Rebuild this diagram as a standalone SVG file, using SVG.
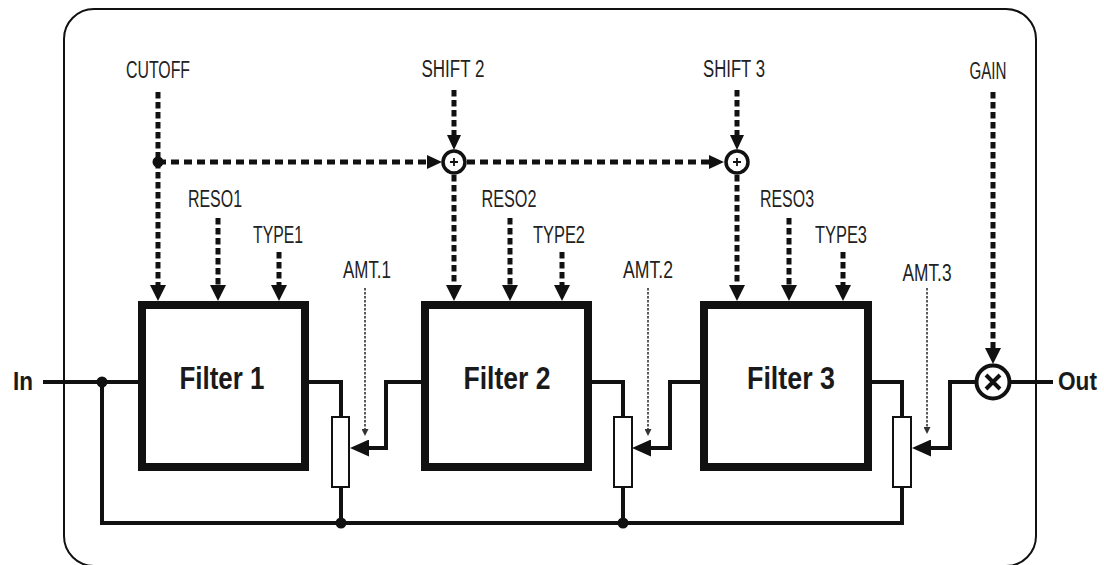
<svg xmlns="http://www.w3.org/2000/svg" width="1104" height="565" viewBox="0 0 1104 565">
  <defs>
    <marker id="ahBig" markerUnits="userSpaceOnUse" markerWidth="16" markerHeight="16" refX="0" refY="8" orient="auto" viewBox="0 0 16 16">
      <path d="M0,0 L16,8 L0,16 z" fill="#111"/>
    </marker>
    <marker id="ahSum" markerUnits="userSpaceOnUse" markerWidth="15" markerHeight="14" refX="0" refY="7" orient="auto" viewBox="0 0 15 14">
      <path d="M0,0 L15,7 L0,14 z" fill="#111"/>
    </marker>
    <marker id="ahWiper" markerUnits="userSpaceOnUse" markerWidth="19" markerHeight="17" refX="0" refY="8.5" orient="auto" viewBox="0 0 19 17">
      <path d="M0,0 L19,8.5 L0,17 z" fill="#111"/>
    </marker>
    <marker id="ahThin" markerUnits="userSpaceOnUse" markerWidth="7" markerHeight="7" refX="0" refY="3.5" orient="auto" viewBox="0 0 7 7">
      <path d="M0,0 L7,3.5 L0,7 z" fill="#333"/>
    </marker>
  </defs>
  <style>
    .frame { fill: #fff; stroke: #111; stroke-width: 2; }
    .lbl { font-family: "Liberation Sans", Arial, sans-serif; font-size: 23px; fill: #222; text-anchor: middle; }
    .flt { font-family: "Liberation Sans", Arial, sans-serif; font-size: 31px; font-weight: bold; fill: #1a1a1a; text-anchor: middle; }
    .io { font-family: "Liberation Sans", Arial, sans-serif; font-size: 26px; font-weight: bold; fill: #1a1a1a; }
    .box { fill: #fff; stroke: #111; stroke-width: 8; }
    .pot { fill: #fff; stroke: #111; stroke-width: 2; }
    .wire { fill: none; stroke: #111; stroke-width: 4; }
    .ctlV { fill: none; stroke: #111; stroke-width: 5; stroke-dasharray: 6.5 3.5; }
    .ctlH { fill: none; stroke: #111; stroke-width: 5; stroke-dasharray: 8 5; }
    .amt { fill: none; stroke: #333; stroke-width: 1.6; stroke-dasharray: 2.5 1.5; }
    .sum { fill: #fff; stroke: #111; stroke-width: 3.5; }
    .mul { fill: #fff; stroke: #111; stroke-width: 4; }
    .sign { stroke: #111; stroke-width: 1.8; }
    .dot { fill: #111; }
  </style>

  <rect id="frame" class="frame" x="64" y="9" width="972" height="557" rx="30" ry="30"/>

  <g id="connectors">
    <!-- audio path -->
    <path class="wire" d="M43,382 H142"/>
    <path class="wire" d="M102,382 V523 H902 V487"/>
    <path class="wire" d="M305,382 H341 V417"/>
    <path class="wire" d="M341,487 V523"/>
    <path class="wire" d="M421,382 H386 V448 H369" marker-end="url(#ahWiper)"/>
    <path class="wire" d="M588,382 H623 V417"/>
    <path class="wire" d="M623,487 V523"/>
    <path class="wire" d="M704,382 H670 V448 H651" marker-end="url(#ahWiper)"/>
    <path class="wire" d="M868,382 H902 V417"/>
    <path class="wire" d="M975,382 H950 V448 H931" marker-end="url(#ahWiper)"/>
    <path class="wire" d="M1011,382 H1053"/>
    <!-- control path -->
    <path class="ctlV" d="M158,92 V285" marker-end="url(#ahBig)"/>
    <path class="ctlH" d="M158,162 H427" marker-end="url(#ahSum)"/>
    <path class="ctlH" d="M467,162 H709" marker-end="url(#ahSum)"/>
    <path class="ctlV" d="M454,90 V135" marker-end="url(#ahSum)"/>
    <path class="ctlV" d="M454,175 V285" marker-end="url(#ahBig)"/>
    <path class="ctlV" d="M737,90 V135" marker-end="url(#ahSum)"/>
    <path class="ctlV" d="M737,175 V285" marker-end="url(#ahBig)"/>
    <path class="ctlV" d="M218,218 V285" marker-end="url(#ahBig)"/>
    <path class="ctlV" d="M279,252 V285" marker-end="url(#ahBig)"/>
    <path class="ctlV" d="M510,218 V285" marker-end="url(#ahBig)"/>
    <path class="ctlV" d="M562,252 V285" marker-end="url(#ahBig)"/>
    <path class="ctlV" d="M789,218 V285" marker-end="url(#ahBig)"/>
    <path class="ctlV" d="M843,252 V285" marker-end="url(#ahBig)"/>
    <path class="ctlV" d="M993,92 V348" marker-end="url(#ahBig)"/>
    <path class="amt" d="M365,288 V429" marker-end="url(#ahThin)"/>
    <path class="amt" d="M648,288 V429" marker-end="url(#ahThin)"/>
    <path class="amt" d="M927,288 V427" marker-end="url(#ahThin)"/>
  </g>

  <g id="junctions">
    <circle class="dot" cx="102" cy="382" r="5.5"/>
    <circle class="dot" cx="341" cy="523" r="5.5"/>
    <circle class="dot" cx="623" cy="523" r="5.5"/>
    <circle class="dot" cx="158" cy="162" r="5.5"/>
  </g>

  <g id="filter1">
    <rect class="box" x="142" y="305" width="163" height="162"/>
    <text class="flt" x="222" y="389" textLength="85" lengthAdjust="spacingAndGlyphs">Filter 1</text>
  </g>
  <g id="filter2">
    <rect class="box" x="425" y="305" width="163" height="162"/>
    <text class="flt" x="507" y="389" textLength="87" lengthAdjust="spacingAndGlyphs">Filter 2</text>
  </g>
  <g id="filter3">
    <rect class="box" x="704" y="305" width="164" height="162"/>
    <text class="flt" x="791" y="389" textLength="88" lengthAdjust="spacingAndGlyphs">Filter 3</text>
  </g>

  <g id="pot1"><rect class="pot" x="332" y="417" width="17" height="70"/></g>
  <g id="pot2"><rect class="pot" x="614" y="417" width="18" height="70"/></g>
  <g id="pot3"><rect class="pot" x="893" y="417" width="18" height="70"/></g>

  <g id="adder2">
    <circle class="sum" cx="454" cy="162" r="11"/>
    <path class="sign" d="M450,162 H458 M454,158 V166"/>
  </g>
  <g id="adder3">
    <circle class="sum" cx="737" cy="162" r="11"/>
    <path class="sign" d="M733,162 H741 M737,158 V166"/>
  </g>
  <g id="multiplier">
    <circle class="mul" cx="993" cy="382" r="16.5"/>
    <path d="M986,375 L1000,389 M1000,375 L986,389" stroke="#111" stroke-width="4"/>
  </g>

  <g id="labels">
    <text class="lbl" x="158" y="78" textLength="64" lengthAdjust="spacingAndGlyphs">CUTOFF</text>
    <text class="lbl" x="453" y="77" textLength="63" lengthAdjust="spacingAndGlyphs">SHIFT 2</text>
    <text class="lbl" x="734" y="77" textLength="62" lengthAdjust="spacingAndGlyphs">SHIFT 3</text>
    <text class="lbl" x="988" y="79" textLength="37" lengthAdjust="spacingAndGlyphs">GAIN</text>
    <text class="lbl" x="215" y="207" textLength="54" lengthAdjust="spacingAndGlyphs">RESO1</text>
    <text class="lbl" x="278" y="243" textLength="50" lengthAdjust="spacingAndGlyphs">TYPE1</text>
    <text class="lbl" x="509" y="207" textLength="55" lengthAdjust="spacingAndGlyphs">RESO2</text>
    <text class="lbl" x="559" y="243" textLength="52" lengthAdjust="spacingAndGlyphs">TYPE2</text>
    <text class="lbl" x="787" y="207" textLength="54" lengthAdjust="spacingAndGlyphs">RESO3</text>
    <text class="lbl" x="841" y="243" textLength="52" lengthAdjust="spacingAndGlyphs">TYPE3</text>
    <text class="lbl" x="367" y="278" textLength="48" lengthAdjust="spacingAndGlyphs">AMT.1</text>
    <text class="lbl" x="648" y="278" textLength="50" lengthAdjust="spacingAndGlyphs">AMT.2</text>
    <text class="lbl" x="927" y="281" textLength="49" lengthAdjust="spacingAndGlyphs">AMT.3</text>
    <text class="io" x="13" y="390" textLength="20" lengthAdjust="spacingAndGlyphs">In</text>
    <text class="io" x="1058" y="390" textLength="39" lengthAdjust="spacingAndGlyphs">Out</text>
  </g>
</svg>
